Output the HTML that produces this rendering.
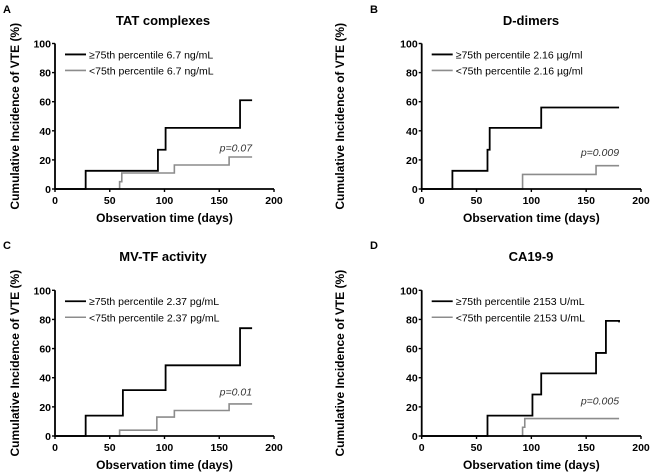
<!DOCTYPE html>
<html><head><meta charset="utf-8"><style>
html,body{margin:0;padding:0;background:#fff;}
svg{display:block;font-family:"Liberation Sans",Arial,sans-serif;}
</style></head><body>
<svg id="fig" width="650" height="472" viewBox="0 0 650 472" xmlns="http://www.w3.org/2000/svg"></svg>
<script>
const panelLetters = ["A","B","C","D"];
const panelTitles = ["TAT complexes","D-dimers","MV-TF activity","CA19-9"];
const legendHigh = ["\u226575th percentile 6.7 ng/mL","\u226575th percentile 2.16 \u00b5g/ml","\u226575th percentile 2.37 pg/mL","\u226575th percentile 2153 U/mL"];
const legendLow = ["<75th percentile 6.7 ng/mL","<75th percentile 2.16 \u00b5g/ml","<75th percentile 2.37 pg/mL","<75th percentile 2153 U/mL"];
const pValues = ["p=0.07","p=0.009","p=0.01","p=0.005"];
const xTicks = [0,50,100,150,200];
const yTicks = [0,20,40,60,80,100];
// step series: [time, cumulative %]
const highTimes = [[0,28,94,101,169,180],[0,28,60,62,109,180],[0,28,62,101,169,180],[0,60,101,109,159,168,180]];
const highValues = [[0,12.5,27,42,61,61],[0,12.5,27,42,56,56],[0,14,31.5,48.5,74,74],[0,14,28.5,43,57,79,78]];
const lowTimes = [[0,59,61,109,159,180],[0,92,159,180],[0,59,93,109,159,180],[0,92,94,180]];
const lowValues = [[0,5,11,16.5,22,22],[0,10,16,16],[0,4,13,17.5,22,22],[0,6,12,12]];
const pLabelY = [23,20,25,19];

const NS="http://www.w3.org/2000/svg";
const svg=document.getElementById('fig');
function el(tag,attrs,parent){const e=document.createElementNS(NS,tag);for(const k in attrs)e.setAttribute(k,attrs[k]);(parent||svg).appendChild(e);return e;}
function txt(str,attrs,parent){const t=el('text',attrs,parent);t.textContent=str;return t;}

const layouts=[{ox:0,oy:0,x0:55,x1:274,y0:189,y1:43.5},{ox:325,oy:0,x0:421.7,x1:641,y0:189,y1:43.5},
{ox:0,oy:236,x0:55,x1:274,y0:436,y1:290.3},{ox:325,oy:236,x0:421.7,x1:641,y0:436,y1:290.3}];

layouts.forEach((L,i)=>{
  const g=el('g',{});
  
  
  const xs=v=>L.x0+(L.x1-L.x0)*v/200;
  const ys=v=>L.y0+(L.y1-L.y0)*v/100;
  const lt=txt(panelLetters[i],{x:L.ox+(i%2?45:3),y:L.oy+13,'font-size':11,'font-weight':'bold'},g);
  
  const tt=txt(panelTitles[i],{x:i%2?531:163,y:L.oy+25,'font-size':13,'font-weight':'bold','text-anchor':'middle'},g);
  
  function step(T,V){let d=`M${xs(T[0])},${ys(V[0])}`;for(let k=1;k<T.length;k++){d+=` H${xs(T[k])} V${ys(V[k])}`;}return d;}
  const lp=el('path',{d:step(lowTimes[i],lowValues[i]),stroke:'#8c8c8c','stroke-width':1.6,fill:'none'},g);
  
  const hp=el('path',{d:step(highTimes[i],highValues[i]),stroke:'#000','stroke-width':1.8,fill:'none'},g);
  
  // axes on top
  const ax=el('path',{d:`M${L.x0},${L.y1} V${L.y0} H${L.x1}`,stroke:'#000','stroke-width':1.8,fill:'none'},g);
  
  yTicks.forEach(v=>{
    el('line',{x1:L.x0-3,x2:L.x0,y1:ys(v),y2:ys(v),stroke:'#000','stroke-width':1.4},g);
    const t=txt(v,{x:L.x0-4,y:ys(v)+4,'font-size':10.5,'font-weight':'bold','text-anchor':'end'},g);
    
  });
  xTicks.forEach(v=>{
    el('line',{x1:xs(v),x2:xs(v),y1:L.y0,y2:L.y0+3,stroke:'#000','stroke-width':1.4},g);
    const t=txt(v,{x:xs(v),y:L.y0+15,'font-size':10.5,'font-weight':'bold','text-anchor':'middle'},g);
    
  });
  const xl=txt('Observation time (days)',{x:(L.x0+L.x1)/2,y:L.y0+33,'font-size':12,'font-weight':'bold','text-anchor':'middle'},g);
  
  const yx=L.ox+19, ym=(L.y0+L.y1)/2;
  const yl=txt('Cumulative Incidence of VTE (%)',{x:yx,y:ym,'font-size':12,'font-weight':'bold','text-anchor':'middle',transform:`rotate(-90 ${yx} ${ym})`},g);
  
  const pv=txt(pValues[i],{x:xs(180),y:ys(pLabelY[i])-4,'font-size':10.5,'font-style':'italic','text-anchor':'end',fill:'#333'},g);
  
  // legend
  const lx=L.x0+10, ly1=ys(92.5), ly2=ys(81.5);
  const lg=el('g',{},g);
  
  el('line',{x1:lx,x2:lx+21,y1:ly1,y2:ly1,stroke:'#000','stroke-width':1.8},lg);
  txt(legendHigh[i],{x:lx+24,y:ly1+4,'font-size':10.5},lg);
  el('line',{x1:lx,x2:lx+21,y1:ly2,y2:ly2,stroke:'#8c8c8c','stroke-width':1.6},lg);
  txt(legendLow[i],{x:lx+24,y:ly2+4,'font-size':10.5},lg);
});
</script>
</body></html>
